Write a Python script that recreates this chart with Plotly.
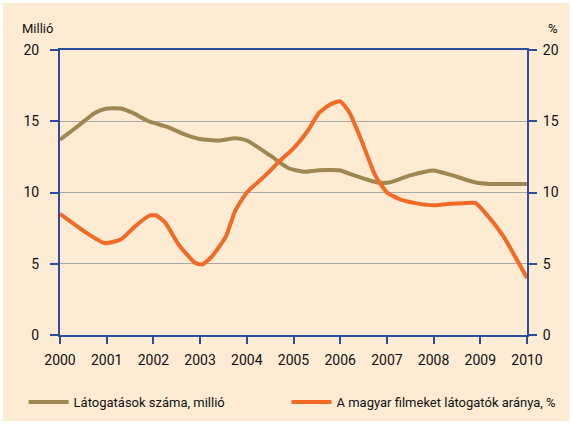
import plotly.graph_objects as go

# Data
visits_x = [2000, 2000.4, 2000.75, 2001.0, 2001.3, 2001.55, 2001.9, 2002.3, 2002.65, 2003.0, 2003.4,
            2003.75, 2004.0, 2004.5, 2004.9, 2005.25, 2005.5, 2006.0, 2006.3, 2006.8, 2007.05,
            2007.5, 2008.0, 2008.35, 2008.9, 2009.2, 2009.6, 2010.0]
visits_y = [13.7, 14.7, 15.6, 15.9, 15.9, 15.6, 15.0, 14.6, 14.1, 13.75, 13.65,
            13.8, 13.65, 12.6, 11.7, 11.45, 11.55, 11.55, 11.2, 10.7, 10.7,
            11.2, 11.55, 11.25, 10.7, 10.6, 10.6, 10.6]

share_x = [2000, 2000.55, 2000.95, 2001.3, 2001.6, 2001.9, 2002.05, 2002.25, 2002.55, 2002.9, 2003.05,
           2003.25, 2003.55, 2003.75, 2004.0, 2004.4, 2004.7, 2005.0, 2005.3, 2005.55, 2005.8,
           2006.0, 2006.2, 2006.45, 2006.75, 2007.0, 2007.3, 2007.7, 2008.0, 2008.3, 2008.65,
           2008.9, 2009.2, 2009.5, 2010.0]
share_y = [8.5, 7.2, 6.45, 6.7, 7.6, 8.35, 8.4, 7.9, 6.3, 5.05, 4.95,
           5.5, 6.9, 8.7, 10.0, 11.2, 12.2, 13.1, 14.3, 15.6, 16.2,
           16.4, 15.6, 13.7, 11.2, 10.0, 9.5, 9.2, 9.1, 9.2, 9.25,
           9.25, 8.2, 6.9, 4.0]

years = list(range(2000, 2011))
yticks = [0, 5, 10, 15, 20]

name_visits = "Látogatások száma, millió"
name_share = "A magyar filmeket látogatók aránya, %"

FONT = "Roboto, Liberation Sans, sans-serif"
AXIS_BLUE = "#2E4C9C"
BROWN = "#A08752"
ORANGE = "#F26A25"
PANEL = "#FDEBD4"

fig = go.Figure()
fig.add_trace(go.Scatter(x=visits_x, y=visits_y, mode="lines", name=name_visits,
                         legend="legend",
                         line=dict(color=BROWN, width=4, shape="spline", smoothing=0.5)))
fig.add_trace(go.Scatter(x=share_x, y=share_y, mode="lines", name=name_share, yaxis="y2",
                         legend="legend2",
                         line=dict(color=ORANGE, width=4, shape="spline", smoothing=0.5)))

legend_common = dict(orientation="h", y=-0.235, xanchor="left", yanchor="middle",
                     bgcolor="rgba(0,0,0,0)", font=dict(size=13, color="#111111"),
                     itemwidth=40)

fig.update_layout(
    width=572, height=424,
    margin=dict(l=60, r=45, t=50, b=89, autoexpand=False),
    paper_bgcolor="white",
    plot_bgcolor="white",
    font=dict(family=FONT, size=14, color="#111111"),
    showlegend=True,
    legend=dict(x=-0.078, **legend_common),
    legend2=dict(x=0.485, **legend_common),
    xaxis=dict(range=[2000, 2010], tickmode="array", tickvals=years,
               ticktext=[str(y) for y in years], showgrid=False, zeroline=False,
               showline=True, linecolor=AXIS_BLUE, linewidth=2, mirror=True,
               ticks="outside", ticklen=7, tickwidth=2, tickcolor=AXIS_BLUE,
               ticklabelstandoff=4, tickfont=dict(size=14)),
    yaxis=dict(range=[0, 20], tickmode="array", tickvals=yticks, showgrid=True,
               gridcolor="#A8A8A8", gridwidth=1, zeroline=False,
               showline=True, linecolor=AXIS_BLUE, linewidth=2,
               ticks="outside", ticklen=8, tickwidth=2, tickcolor=AXIS_BLUE,
               ticklabelstandoff=8, tickfont=dict(size=14)),
    yaxis2=dict(range=[0, 20], tickmode="array", tickvals=yticks, overlaying="y",
                side="right", showgrid=False, zeroline=False,
                showline=True, linecolor=AXIS_BLUE, linewidth=2,
                ticks="outside", ticklen=8, tickwidth=2, tickcolor=AXIS_BLUE,
                ticklabelstandoff=3, tickfont=dict(size=14)),
    shapes=[dict(type="rect", xref="paper", yref="paper", x0=-0.122, x1=1.09,
                 y0=-0.302, y1=1.165, fillcolor=PANEL, line=dict(width=0), layer="below")],
    annotations=[
        dict(text="Millió", xref="paper", yref="paper", x=-0.049, y=1.075,
             xanchor="center", yanchor="middle", showarrow=False, font=dict(size=13)),
        dict(text="%", xref="paper", yref="paper", x=1.056, y=1.075,
             xanchor="center", yanchor="middle", showarrow=False, font=dict(size=13)),
    ],
)

fig.write_html("out.html", config={"displayModeBar": False},
               post_script="document.body.style.margin='0px';")
